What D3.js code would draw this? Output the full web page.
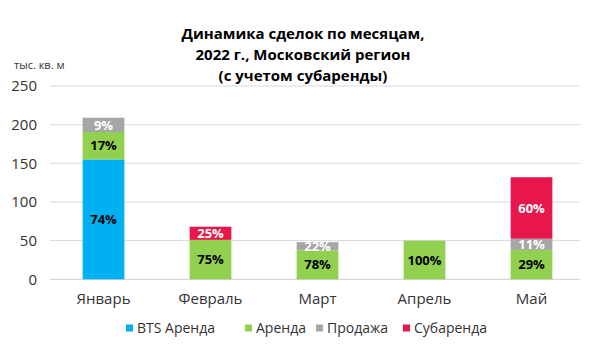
<!DOCTYPE html>
<html><head><meta charset="utf-8">
<script src="https://cdn.jsdelivr.net/npm/d3@7"></script>
<style>body{margin:0;background:#fff}svg{display:block;font-family:"Open Sans","Noto Sans",sans-serif}</style>
</head><body><svg id="c" width="600" height="353"></svg>
<script>
const months = ["Январь","Февраль","Март","Апрель","Май"];
const seriesNames = ["BTS Аренда","Аренда","Продажа","Субаренда"];
const colors = ["#00B0F0","#92D050","#A6A6A6","#E8174B"];
const labelColors = ["#000","#000","#fff","#fff"];
const btsArenda = [155, 0, 0, 0, 0];
const arenda = [35.5, 51, 37.5, 50, 38];
const prodazha = [18.5, 0, 10.5, 0, 14.5];
const subarenda = [0, 17, 0, 0, 79.5];
const pctLabels = [
  ["74%","","","",""],
  ["17%","75%","78%","100%","29%"],
  ["9%","","22%","","11%"],
  ["","25%","","","60%"]
];
const yTicks = [0,50,100,150,200,250];
const titleLines = ["Динамика сделок по месяцам,","2022 г., Московский регион","(с учетом субаренды)"];
const yUnit = "тыс. кв. м";

const svg = d3.select("#c");
const x = d3.scaleBand().domain(months).range([50,585]).paddingInner(0.61).paddingOuter(0.305);
const y = d3.scaleLinear().domain([0,250]).range([279.3,86]);

const rows = months.map((m,i)=>({m, s0:btsArenda[i], s1:arenda[i], s2:prodazha[i], s3:subarenda[i]}));
const stack = d3.stack().keys(["s0","s1","s2","s3"])(rows);

// grid
svg.append("g").selectAll("line").data(yTicks).join("line")
  .attr("x1",50).attr("x2",580).attr("y1",d=>y(d)).attr("y2",d=>y(d))
  .attr("stroke",d=>d===0?"#d0d0d0":"#d9d9d9").attr("stroke-width",1);

// y axis labels
const yAxis = svg.append("g").attr("transform","translate(37,0)")
  .call(d3.axisLeft(y).tickValues(yTicks).tickSize(0).tickPadding(0));
yAxis.select(".domain").remove();
yAxis.selectAll("text").attr("font-size",15).attr("fill","#333").attr("font-family","Open Sans");

svg.append("text").attr("x",14).attr("y",65).attr("dy","0.35em").attr("font-size",11).attr("fill","#333").text(yUnit);

// bars
stack.forEach((layer,si)=>{
  const g = svg.append("g");
  layer.forEach((d,i)=>{
    if(d[1]-d[0] <= 0) return;
    g.append("rect").attr("x",x(months[i])).attr("width",x.bandwidth())
      .attr("y",y(d[1])).attr("height",y(d[0])-y(d[1])).attr("fill",colors[si]);
    const lbl = pctLabels[si][i];
    if(lbl){
      g.append("text").attr("x",x(months[i])+x.bandwidth()/2)
        .attr("y",(y(d[0])+y(d[1]))/2).attr("dy","0.36em")
        .attr("text-anchor","middle").attr("font-size",13).attr("font-weight","bold")
        .attr("fill",labelColors[si]).text(lbl);
    }
  });
});

// x axis labels
const xAxis = svg.append("g").attr("transform","translate(0,279.3)")
  .call(d3.axisBottom(x).tickSize(0).tickPadding(14));
xAxis.select(".domain").remove();
xAxis.selectAll("text").attr("font-size",15).attr("fill","#333").attr("font-family","Open Sans");

// title
svg.append("g").selectAll("text").data(titleLines).join("text")
  .attr("x",303).attr("y",(d,i)=>34+i*21).attr("dy","0.35em").attr("text-anchor","middle")
  .attr("font-size",15).attr("font-weight","bold").attr("fill","#000").text(d=>d);

// legend
const legendX = [126,245,316,403];
const lg = svg.append("g").selectAll("g").data(seriesNames).join("g")
  .attr("transform",(d,i)=>`translate(${legendX[i]},328)`);
lg.append("rect").attr("x",0).attr("y",-3.5).attr("width",7).attr("height",7).attr("fill",(d,i)=>colors[i]);
lg.append("text").attr("x",11).attr("y",0).attr("dy","0.35em").attr("font-size",14).attr("fill","#333").text(d=>d);
</script></body></html>
